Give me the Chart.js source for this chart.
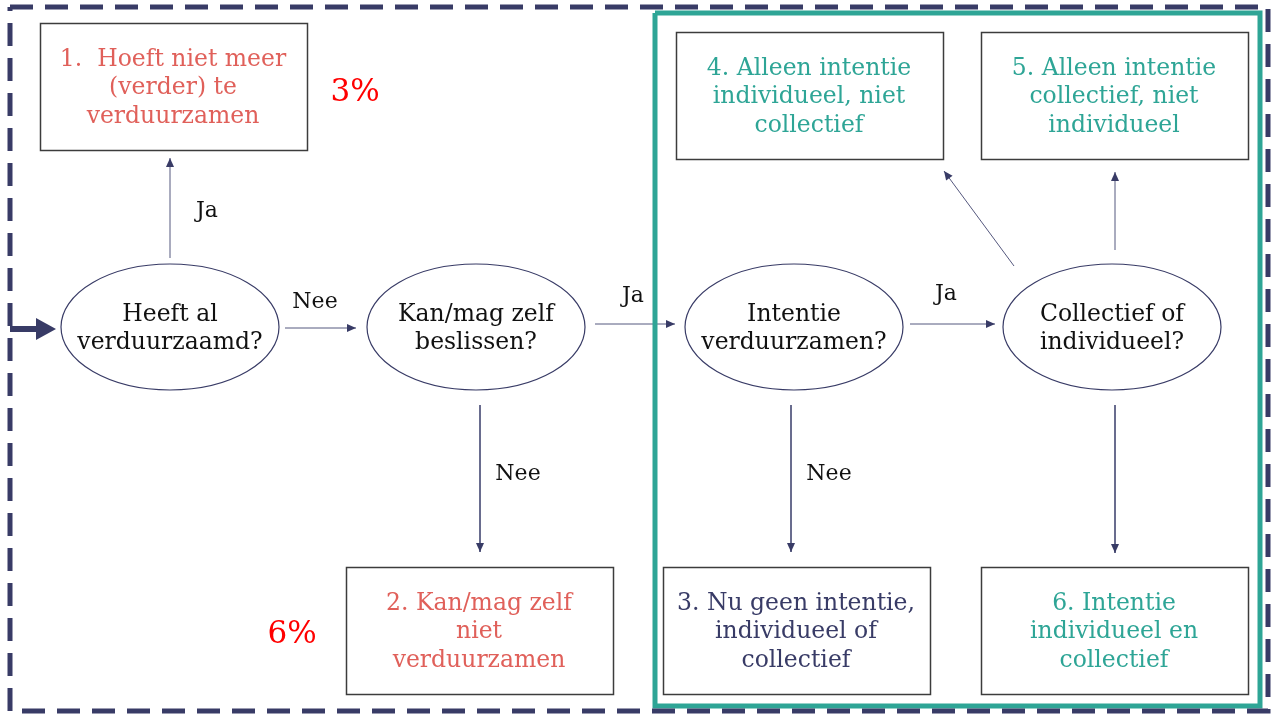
<!DOCTYPE html>
<html>
<head>
<meta charset="utf-8">
<script src="https://cdn.jsdelivr.net/npm/chart.js@4.4.1/dist/chart.umd.min.js"></script>
<style>
  html, body { margin: 0; padding: 0; background: #fff; }
  #wrap { width: 1279px; height: 716px; position: relative; }
</style>
</head>
<body>
<div id="wrap"><canvas id="flow"></canvas></div>
<script>
// Knopen van het stroomschema (ellipsen = vragen, rechthoeken = uitkomsten)
const nodeIds    = ['q1', 'q2', 'q3', 'q4', 'r1', 'r2', 'r3', 'r4', 'r5', 'r6'];
const nodeKinds  = ['ellipse', 'ellipse', 'ellipse', 'ellipse', 'box', 'box', 'box', 'box', 'box', 'box'];
const nodeX      = [170, 476, 794, 1112, 173, 479, 796, 809, 1114, 1114];
const nodeY      = [327, 327, 327, 327, 86, 630, 630, 95, 95, 630];
const nodeTexts  = [
  ['Heeft al', 'verduurzaamd?'],
  ['Kan/mag zelf', 'beslissen?'],
  ['Intentie', 'verduurzamen?'],
  ['Collectief of', 'individueel?'],
  ['1.  Hoeft niet meer', '(verder) te', 'verduurzamen'],
  ['2. Kan/mag zelf', 'niet', 'verduurzamen'],
  ['3. Nu geen intentie,', 'individueel of', 'collectief'],
  ['4. Alleen intentie', 'individueel, niet', 'collectief'],
  ['5. Alleen intentie', 'collectief, niet', 'individueel'],
  ['6. Intentie', 'individueel en', 'collectief']
];
const nodeGroups = ['q', 'q', 'q', 'q', 'out', 'out', 'stay', 'act', 'act', 'act'];

// Pijlen: begin- en eindpunt, met label
const edgeFromX  = [170, 285, 595, 910, 480, 791, 1115, 1014, 1115];
const edgeFromY  = [258, 328, 324, 324, 405, 405, 405, 266, 250];
const edgeToX    = [170, 356, 675, 995, 480, 791, 1115, 944, 1115];
const edgeToY    = [158, 328, 324, 324, 552, 552, 553, 171, 172];
const edgeLabels = ['Ja', 'Nee', 'Ja', 'Ja', 'Nee', 'Nee', '', '', ''];
const labelX     = [207, 315, 633, 946, 518, 829];
const labelY     = [211, 302, 296, 294, 474, 474];

// Percentages
const pctLabels = ['3%', '6%'];
const pctX      = [355, 292];
const pctY      = [93, 635];

const COL = {
  navy: '#383b66',
  teal: '#2ea596',
  red: '#e0605a',
  arrow: '#55587e',
  boxLine: '#3c3c3c'
};
const groupColor = { q: '#111', out: COL.red, stay: COL.navy, act: COL.teal };
const FONT = '"DejaVu Serif", serif';
const BOX_W = 267, BOX_H = 127, ELL_RX = 109, ELL_RY = 63;

// pijlen als lijn-datasets
const edgeSets = edgeFromX.map((x, i) => ({
  type: 'line',
  data: [{x: x, y: edgeFromY[i]}, {x: edgeToX[i], y: edgeToY[i]}],
  borderColor: COL.arrow,
  borderWidth: 1,
  pointRadius: 0,
  arrow: true
}));

// omkaderingen
const outerFrame = {
  type: 'line',
  data: [{x: 10, y: 7}, {x: 1268, y: 7}, {x: 1268, y: 711}, {x: 10, y: 711}, {x: 10, y: 7}],
  borderColor: COL.navy, borderWidth: 5, borderDash: [23, 12], pointRadius: 0
};
const tealFrame = {
  type: 'line',
  data: [{x: 655, y: 13}, {x: 1260, y: 13}, {x: 1260, y: 706}, {x: 655, y: 706}, {x: 655, y: 13}],
  borderColor: COL.teal, borderWidth: 5, pointRadius: 0
};
const nodeSet = {
  type: 'scatter',
  data: nodeX.map((x, i) => ({x: x, y: nodeY[i]})),
  pointRadius: 0
};

function px(chart, x, y) {
  return [chart.scales.x.getPixelForValue(x), chart.scales.y.getPixelForValue(y)];
}

const flowPlugin = {
  id: 'flow',
  beforeDatasetsDraw(chart) {
    const ctx = chart.ctx;
    ctx.save();
    ctx.fillStyle = '#fff';
    ctx.fillRect(0, 0, chart.width, chart.height);
    ctx.restore();
  },
  afterDatasetsDraw(chart) {
    const ctx = chart.ctx;
    ctx.save();

    // instroom-pijl links
    const a = px(chart, 10, 329), b = px(chart, 38, 329), t = px(chart, 56, 329);
    ctx.strokeStyle = COL.navy; ctx.fillStyle = COL.navy; ctx.lineWidth = 6;
    ctx.beginPath(); ctx.moveTo(a[0], a[1]); ctx.lineTo(b[0], b[1]); ctx.stroke();
    ctx.beginPath(); ctx.moveTo(t[0], t[1]); ctx.lineTo(b[0] - 2, b[1] - 11); ctx.lineTo(b[0] - 2, b[1] + 11); ctx.closePath(); ctx.fill();

    // pijlpunten
    chart.data.datasets.forEach((ds) => {
      if (!ds.arrow) return;
      const p0 = px(chart, ds.data[0].x, ds.data[0].y);
      const p1 = px(chart, ds.data[1].x, ds.data[1].y);
      const ang = Math.atan2(p1[1] - p0[1], p1[0] - p0[0]);
      const L = 9, W = 4;
      ctx.fillStyle = COL.navy;
      ctx.beginPath();
      ctx.moveTo(p1[0], p1[1]);
      ctx.lineTo(p1[0] - L * Math.cos(ang) + W * Math.sin(ang), p1[1] - L * Math.sin(ang) - W * Math.cos(ang));
      ctx.lineTo(p1[0] - L * Math.cos(ang) - W * Math.sin(ang), p1[1] - L * Math.sin(ang) + W * Math.cos(ang));
      ctx.closePath();
      ctx.fill();
    });

    // knopen
    const meta = chart.getDatasetMeta(chart.data.datasets.indexOf(nodeSet));
    meta.data.forEach((pt, i) => {
      const cx = pt.x, cy = pt.y;
      if (nodeKinds[i] === 'ellipse') {
        ctx.strokeStyle = COL.navy; ctx.lineWidth = 1.2;
        ctx.beginPath(); ctx.ellipse(cx, cy, ELL_RX, ELL_RY, 0, 0, Math.PI * 2); ctx.stroke();
      } else {
        ctx.strokeStyle = COL.boxLine; ctx.lineWidth = 1.5;
        ctx.strokeRect(Math.round(cx - BOX_W / 2) + 0.5, Math.round(cy - BOX_H / 2) + 0.5, BOX_W, BOX_H);
      }
      const lines = nodeTexts[i];
      const lh = 28.5;
      ctx.fillStyle = groupColor[nodeGroups[i]];
      ctx.font = '23.5px ' + FONT;
      ctx.textAlign = 'center'; ctx.textBaseline = 'middle';
      const y0 = cy - (lines.length - 1) * lh / 2 + 2;
      lines.forEach((s, k) => ctx.fillText(s, cx, y0 + k * lh));
    });

    // labels bij pijlen
    ctx.fillStyle = '#111';
    ctx.font = '22px ' + FONT;
    labelX.forEach((x, i) => {
      const p = px(chart, x, labelY[i]);
      ctx.fillText(edgeLabels[i], p[0], p[1]);
    });

    // percentages
    ctx.fillStyle = '#ff0000';
    ctx.font = '31px ' + FONT;
    pctLabels.forEach((s, i) => {
      const p = px(chart, pctX[i], pctY[i]);
      ctx.fillText(s, p[0], p[1]);
    });
    ctx.restore();
  }
};

new Chart(document.getElementById('flow'), {
  type: 'scatter',
  data: { datasets: [outerFrame, tealFrame, ...edgeSets, nodeSet] },
  options: {
    responsive: true,
    maintainAspectRatio: false,
    animation: false,
    layout: { padding: 0 },
    clip: false,
    plugins: { legend: { display: false }, tooltip: { enabled: false } },
    scales: {
      x: { type: 'linear', min: 0, max: 1279, display: false },
      y: { type: 'linear', min: 0, max: 716, reverse: true, display: false }
    }
  },
  plugins: [flowPlugin]
});
</script>
</body>
</html>
